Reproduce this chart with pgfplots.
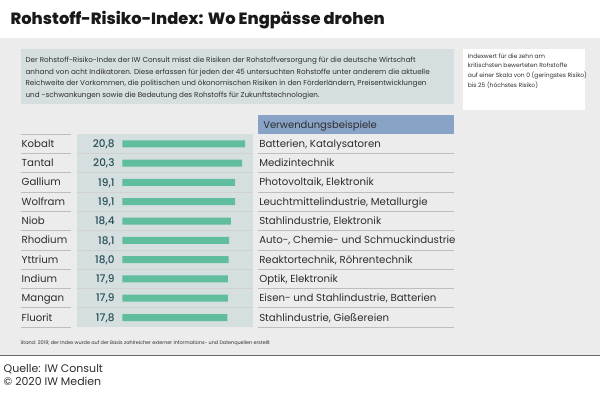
\documentclass[border=0pt]{standalone}
\usepackage{pgfplots}
\pgfplotsset{compat=1.18}
\usepackage{fontspec}
\setmainfont{Poppins}
\newfontfamily\medfont{Poppins Medium}
\newfontfamily\xbfont{Poppins ExtraBold}
\definecolor{panel}{RGB}{236,236,236}
\definecolor{boxc}{RGB}{214,223,224}
\definecolor{headc}{RGB}{137,163,199}
\definecolor{barc}{RGB}{96,189,158}
\definecolor{valc}{RGB}{38,78,86}
\definecolor{txt}{RGB}{45,45,45}
\definecolor{linec}{RGB}{190,190,190}
\begin{document}
\begin{tikzpicture}[x=1bp,y=1bp]
\fill[white] (0,0) rectangle (600,-398);
\fill[panel] (0,-38) rectangle (600,-356);
\draw[line width=0.9bp, color=black!60] (0,-356) -- (600,-356);
\node[anchor=base west, inner sep=0, text=black!90, font=\fontsize{16.3bp}{18bp}\selectfont\xbfont] at (10,-25) {Rohstoff-Risiko-Index: Wo Engpässe drohen};
% description box
\fill[boxc] (21,-49) rectangle (454,-104);
\begin{scope}[every node/.style={anchor=base west, inner sep=0, text=txt, font=\fontsize{7.2bp}{8bp}\selectfont}]
\node at (25,-62.5) {Der Rohstoff-Risiko-Index der IW Consult misst die Risiken der Rohstoffversorgung für die deutsche Wirtschaft};
\node at (25,-74.2) {anhand von acht Indikatoren. Diese erfassen für jeden der 45 untersuchten Rohstoffe unter anderem die aktuelle};
\node at (25,-85.9) {Reichweite der Vorkommen, die politischen und ökonomischen Risiken in den Förderländern, Preisentwicklungen};
\node at (25,-97.5) {und -schwankungen sowie die Bedeutung des Rohstoffs für Zukunftstechnologien.};
\end{scope}
% white box
\fill[white] (463,-49) rectangle (585,-110);
\begin{scope}[every node/.style={anchor=base west, inner sep=0, text=txt, font=\fontsize{6bp}{7bp}\selectfont}]
\node at (468,-58.2) {Indexwert für die zehn am};
\node at (468,-68.0) {kritischsten bewerteten Rohstoffe};
\node at (468,-77.9) {auf einer Skala von 0 (geringstes Risiko)};
\node at (468,-87.2) {bis 25 (höchstes Risiko)};
\end{scope}
% value panel and header
\fill[boxc] (77,-134.33) rectangle (253,-327.67);
\fill[headc] (258,-115) rectangle (454,-134.33);
\node[anchor=base west, inner sep=0, text=txt, font=\fontsize{10bp}{12bp}\selectfont] at (263,-128.6) {Verwendungsbeispiele};
% separator lines
\foreach \k in {0,...,10}{
  \draw[linec, line width=0.8bp] (21,{-134.33-19.333*\k}) -- (71,{-134.33-19.333*\k});
}
\foreach \k in {1,...,9}{
  \draw[black!18, line width=0.8bp] (77,{-134.33-19.333*\k}) -- (253,{-134.33-19.333*\k});
}
\foreach \k in {1,...,10}{
  \draw[linec, line width=0.8bp] (258,{-134.33-19.333*\k}) -- (454,{-134.33-19.333*\k});
}
% names and uses
\foreach \n/\u [count=\i from 0] in {Kobalt/{Batterien, Katalysatoren},Tantal/Medizintechnik,Gallium/{Photovoltaik, Elektronik},Wolfram/{Leuchtmittelindustrie, Metallurgie},Niob/{Stahlindustrie, Elektronik},Rhodium/{Auto-, Chemie- und Schmuckindustrie},Yttrium/{Reaktortechnik, Röhrentechnik},Indium/{Optik, Elektronik},Mangan/{Eisen- und Stahlindustrie, Batterien},Fluorit/{Stahlindustrie, Gießereien}}{
  \node[anchor=base west, inner sep=0, text=txt, font=\fontsize{10.2bp}{12bp}\selectfont] at (21,{-147.6-19.333*\i}) {\n};
  \node[anchor=base west, inner sep=0, text=txt, font=\fontsize{10.2bp}{12bp}\selectfont] at (259,{-147.6-19.333*\i}) {\u};
}
\begin{axis}[at={(122bp,-327.667bp)}, anchor=south west, scale only axis,
  width=147.83bp, height=193.333bp, xmin=0, xmax=25, ymin=0.5, ymax=10.5,
  y dir=reverse, hide axis, clip=false,
  /pgf/number format/assume math mode=true,
  /pgf/number format/use comma, /pgf/number format/fixed,
  /pgf/number format/fixed zerofill, /pgf/number format/precision=1]
\addplot[xbar, bar width=7bp, fill=barc, draw=none] coordinates {
(20.8,1) (20.3,2) (19.1,3) (19.1,4) (18.4,5) (18.1,6) (18.0,7) (17.9,8) (17.9,9) (17.8,10)};
\addplot[draw=none, mark=none, nodes near coords, point meta=explicit,
  nodes near coords style={anchor=base east, inner sep=0, xshift=-7.5bp, yshift=-3.7bp,
  text=valc, font=\fontsize{10.5bp}{12bp}\selectfont\medfont}] coordinates {
(0,1) [20.8] (0,2) [20.3] (0,3) [19.1] (0,4) [19.1] (0,5) [18.4] (0,6) [18.1] (0,7) [18.0] (0,8) [17.9] (0,9) [17.9] (0,10) [17.8]};
\end{axis}
% footnote and source
\node[anchor=base west, inner sep=0, text=txt, font=\fontsize{4.9bp}{5.5bp}\selectfont] at (20,-344.6) {Stand: 2019; der Index wurde auf der Basis zahlreicher externer Informations- und Datenquellen erstellt};
\node[anchor=base west, inner sep=0, text=txt, font=\fontsize{11bp}{13bp}\selectfont] at (3,-373) {Quelle: IW Consult};
\node[anchor=base west, inner sep=0, text=txt, font=\fontsize{11bp}{13bp}\selectfont] at (3,-386.5) {© 2020 IW Medien};
\end{tikzpicture}
\end{document}
